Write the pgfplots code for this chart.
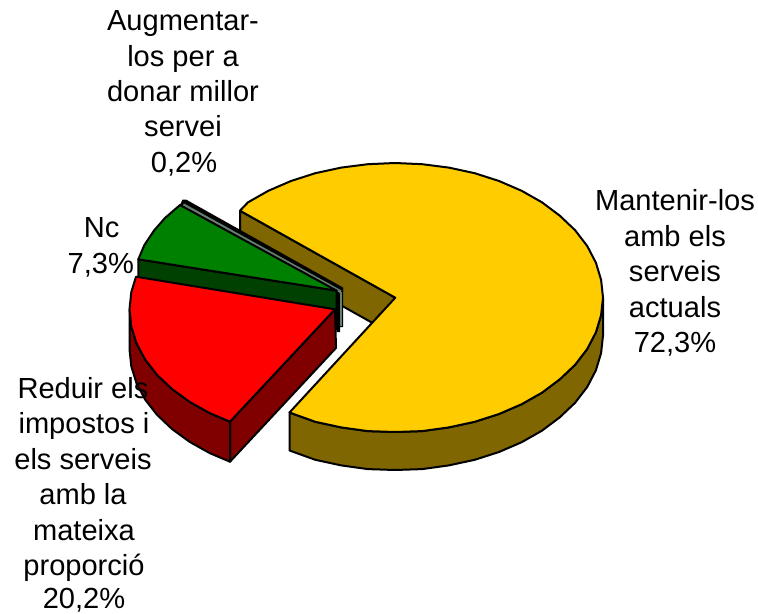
\documentclass[border=0pt]{standalone}
\usepackage{pgfplots}
\pgfplotsset{compat=1.18}
\usepackage{fontspec}
\setmainfont{Liberation Sans}
\definecolor{yel}{HTML}{FFCC00}
\definecolor{yelw}{HTML}{806600}
\definecolor{redw}{HTML}{800000}
\definecolor{grn}{HTML}{008000}
\definecolor{grnw}{HTML}{004000}
\definecolor{gry}{HTML}{668070}
\newcommand{\lab}[3]{\node[anchor=base,inner sep=0pt,text=black] at (axis cs:#1,#2) {\fontsize{21.8}{21.8}\selectfont #3};}
\begin{document}
\begin{tikzpicture}
\useasboundingbox (0,0) rectangle (568.5pt,460.5pt);
\begin{axis}[
  at={(0,0)}, anchor=south west,
  scale only axis, width=568.5pt, height=460.5pt,
  xmin=0, xmax=758, ymin=0, ymax=614, y dir=reverse,
  hide axis, clip=false,
  every axis plot/.append style={draw=black, line width=1.5pt, line join=round},
]
% yellow: inner wall
\addplot[fill=yelw] coordinates {(240,210.7)(395.3,297.7)(395.3,335.7)(240,248.7)} -- cycle;
% yellow: outer wall
\addplot[fill=yelw] coordinates {(603,297.5)(601.1,315.1)(595.9,332.3)(587.2,349)(575.1,364.8)(559.9,379.2)(542.1,392.6)(521.7,404.2)(499,414)(474.7,421.8)(448.8,427.4)(422.2,431.1)(395,432)(367.8,431.1)(341.2,427.4)(315.3,421.8)(289.5,412.5)
(289.5,450.5)(315.3,459.8)(341.2,465.4)(367.8,469.1)(395,470)(422.2,469.1)(448.8,465.4)(474.7,459.8)(499,452)(521.7,442.2)(542.1,430.6)(559.9,417.2)(575.1,402.8)(587.2,387)(595.9,370.3)(601.1,353.1)(603,335.5)} -- cycle;
% yellow: top
\addplot[fill=yel] coordinates {(395.3,297.7)(240,210.7)(247.9,202.4)(268.3,190.8)(291,181)(315.3,173.2)(341.2,167.6)(367.8,164.2)(395,163)(422.2,164.2)(448.8,167.6)(474.7,173.2)(499,181)(521.7,190.8)(542.1,202.4)(559.9,215.8)(575.1,230.2)(587.2,246)(595.9,262.7)(601.1,279.9)(603,297.5)(601.1,315.1)(595.9,332.3)(587.2,349)(575.1,364.8)(559.9,379.2)(542.1,392.6)(521.7,404.2)(499,414)(474.7,421.8)(448.8,427.4)(422.2,431.1)(395,432)(367.8,431.1)(341.2,427.4)(315.3,421.8)(289.5,412.5)} -- cycle;
% thin slice: wall
\addplot[fill=black, draw=none] coordinates {(337,290)(343,288)(343,327)(340,327)(340,332)(336.5,332)} -- cycle;
\addplot[fill=gry, draw=none] coordinates {(339.6,291)(342,291)(342,325.5)(339.6,325.5)} -- cycle;
% thin slice: top
\addplot[fill=black, draw=none] coordinates {(182.5,199.5)(186,199.5)(343,287.5)(343,292)(337,291)(180,205)} -- cycle;
\addplot[fill=gry, draw=none] coordinates {(184,203.5)(341.5,290.5)(340,293)(182.5,206)} -- cycle;
% green: wall
\addplot[fill=grnw] coordinates {(138.3,259.3)(336.7,290.7)(336.7,329)(138.3,297.3)} -- cycle;
% green: top
\addplot[fill=grn] coordinates {(336.7,290.7)(180,205)(165,218)(154.3,230.2)(144.3,245.2)(138.3,259.3)} -- cycle;
% red: walls
\addplot[fill=redw] coordinates {(335,309.3)(230,421.7)(230,461.7)(336,348)} -- cycle;
\addplot[fill=redw] coordinates {(129.5,309.3)(131.3,326.4)(136.5,343.2)(145.1,359.5)(157,374.8)(172,389)(189.7,401.9)(209.9,413.2)(230,421.7)(230,461.7)(209.9,453.2)(189.7,441.9)(172,429)(157,414.8)(145.1,399.5)(136.5,383.2)(131.3,366.4)(129.5,349.3)} -- cycle;
% red: top
\addplot[fill=red] coordinates {(335,309.3)(136,276.7)(131.3,292.1)(129.5,309.3)(131.3,326.4)(136.5,343.2)(145.1,359.5)(157,374.8)(172,389)(189.7,401.9)(209.9,413.2)(230,421.7)} -- cycle;
% labels
\lab{183}{31}{Augmentar-}
\lab{183}{66.5}{los per a}
\lab{183}{101.7}{donar millor}
\lab{183}{136.7}{servei}
\lab{184}{172.7}{0,2\%}
\lab{101.7}{237.3}{Nc}
\lab{100.8}{273.3}{7,3\%}
\lab{83}{398.3}{Reduir els}
\lab{84}{433.3}{impostos i}
\lab{83}{469.3}{els serveis}
\lab{83}{504.3}{amb la}
\lab{84}{540.7}{mateixa}
\lab{84}{575}{proporció}
\lab{84}{608.5}{20,2\%}
\lab{675}{210.7}{Mantenir-los}
\lab{675}{246}{amb els}
\lab{675}{281.7}{serveis}
\lab{675}{317.3}{actuals}
\lab{675}{352.7}{72,3\%}
\end{axis}
\end{tikzpicture}
\end{document}
